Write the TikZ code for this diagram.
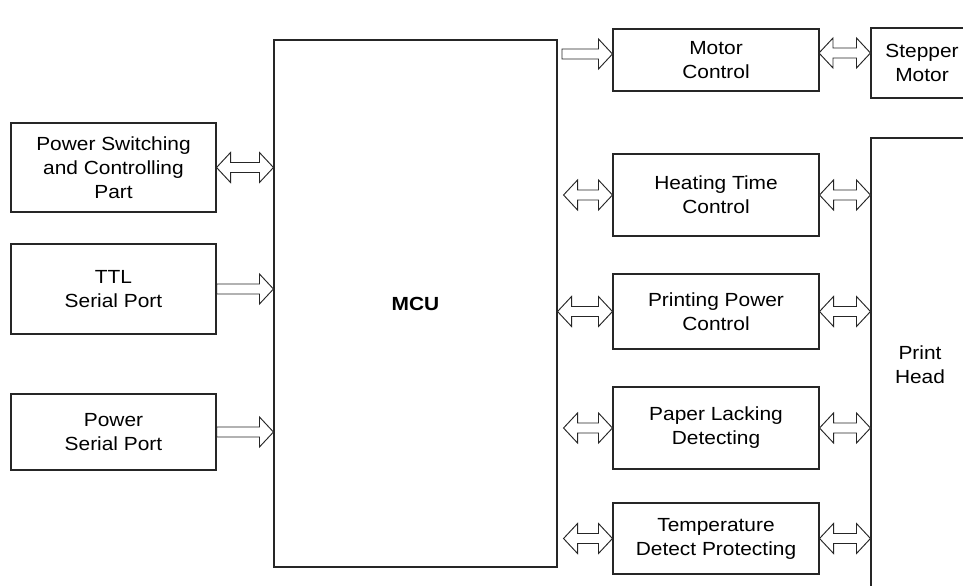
\documentclass[tikz,border=0pt]{standalone}
\usepackage{fontspec}
\setmainfont[FakeStretch=1.1]{Liberation Sans}
\usetikzlibrary{calc}
\newcommand\sarr[2]{\draw[blk] let \p1=#1, \p2=#2 in
 (\x1,\y1+3.75pt) -- (\x2-10.5pt,\y1+3.75pt) -- (\x2-10.5pt,\y1+11.25pt) -- (\x2,\y1)
 -- (\x2-10.5pt,\y1-11.25pt) -- (\x2-10.5pt,\y1-3.75pt) -- (\x1,\y1-3.75pt) -- cycle;}
\newcommand\darr[2]{\draw[blk] let \p1=#1, \p2=#2 in
 (\x1,\y1) -- (\x1+10.5pt,\y1+11.25pt) -- (\x1+10.5pt,\y1+3.75pt) -- (\x2-10.5pt,\y1+3.75pt)
 -- (\x2-10.5pt,\y1+11.25pt) -- (\x2,\y1) -- (\x2-10.5pt,\y1-11.25pt) -- (\x2-10.5pt,\y1-3.75pt)
 -- (\x1+10.5pt,\y1-3.75pt) -- (\x1+10.5pt,\y1-11.25pt) -- cycle;}
\begin{document}
\begin{tikzpicture}[x=0.75pt,y=-0.75pt,
  box/.style={draw=black!85, line width=0.8pt, inner sep=0pt, align=center,
    font=\fontsize{14.25}{18}\selectfont},
  blk/.style={draw=black!85, line width=0.7pt, fill=white, line join=miter}]
\useasboundingbox[fill=white] (0,0) rectangle (963,585);
% left column
\node[box, minimum width=153.75pt, minimum height=66.75pt] (psw) at (113.5,167.5) {Power Switching\\and Controlling\\Part};
\node[box, minimum width=153.75pt, minimum height=67.5pt] (ttl) at (113.5,289) {TTL\\Serial Port};
\node[box, minimum width=153.75pt, minimum height=57pt] (pser) at (113.5,432) {Power\\Serial Port};
% MCU
\node[box, minimum width=212.25pt, minimum height=395.25pt, font=\fontsize{14.25}{18}\selectfont\bfseries] (mcu) at (415.5,303.5) {MCU};
% right column
\node[box, minimum width=154.5pt, minimum height=46.5pt] (motor) at (716,60) {Motor\\Control};
\node[box, minimum width=154.5pt, minimum height=61.5pt] (heat) at (716,195) {Heating Time\\Control};
\node[box, minimum width=154.5pt, minimum height=56.25pt] (ppow) at (716,311.5) {Printing Power\\Control};
\node[box, minimum width=154.5pt, minimum height=61.5pt] (paper) at (716,428) {Paper Lacking\\Detecting};
\node[box, minimum width=154.5pt, minimum height=53.25pt] (temp) at (716,538.5) {Temperature\\Detect Protecting};
% far right
\node[box, minimum width=76.5pt, minimum height=52.5pt] (step) at (922,63) {Stepper\\Motor};
\node[box, minimum width=73.5pt, minimum height=340.5pt] (ph) at (920,365) {Print\\Head};
% free ends
\coordinate (ms) at (562,54);
\coordinate (ss) at (819,53);
% arrows left
\darr{(psw.east)}{(mcu.west |- psw.east)}
\sarr{(ttl.east)}{(mcu.west |- ttl.east)}
\sarr{(pser.east)}{(mcu.west |- pser.east)}
% arrows MCU -> right
\sarr{(ms)}{(motor.west |- ms)}
\darr{([xshift=4.5pt]mcu.east |- heat.west)}{(heat.west)}
\darr{(mcu.east |- ppow.west)}{(ppow.west)}
\darr{([xshift=4.5pt]mcu.east |- paper.west)}{(paper.west)}
\darr{([xshift=4.5pt]mcu.east |- temp.west)}{(temp.west)}
% arrows right -> far right
\darr{(ss)}{(step.west |- ss)}
\darr{(heat.east)}{(ph.west |- heat.east)}
\darr{(ppow.east)}{(ph.west |- ppow.east)}
\darr{(paper.east)}{(ph.west |- paper.east)}
\darr{(temp.east)}{(ph.west |- temp.east)}
\end{tikzpicture}
\end{document}
